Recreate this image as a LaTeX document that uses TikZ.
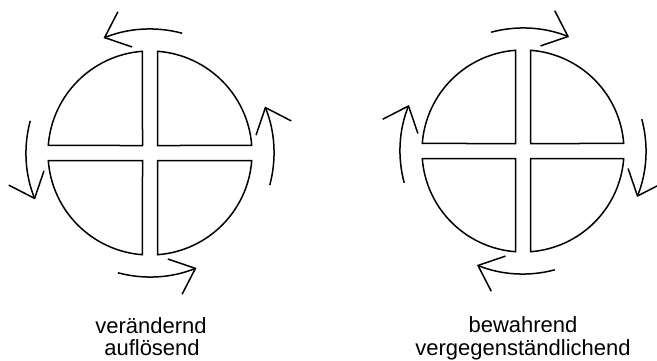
\documentclass[tikz,border=0pt]{standalone}
\usepackage{fontspec}
\setmainfont{Liberation Sans}
\usetikzlibrary{arrows.meta}
\begin{document}
\begin{tikzpicture}[x=1pt,y=1pt,
  quad/.style={draw=black, line width=1.5pt, line join=miter},
  rotarrow/.style={draw=black, line width=1.5pt, -{Straight Barb[length=22pt,width=38pt,line width=1.5pt]}},
  lbl/.style={font=\fontsize{22}{22}\selectfont, anchor=base, inner sep=0pt}]
\useasboundingbox (0,0) rectangle (657,360);
\fill[white] (0,0) rectangle (657,360);
% left disc: turning counterclockwise
\coordinate (c1) at (150,207);
\foreach \k in {0,90,180,270}{
  \begin{scope}[shift={(c1)}, rotate=\k]
    \draw[quad] (7.5,7.5) -- (4.22:102) arc[start angle=4.22, end angle=85.78, radius=102] -- cycle;
    \draw[rotarrow] (-15:124) arc[start angle=-15, end angle=22, radius=124];
  \end{scope}
}
% right disc: turning clockwise
\coordinate (c2) at (523,209);
\foreach \k in {0,90,180,270}{
  \begin{scope}[shift={(c2)}, rotate=\k]
    \draw[quad] (7.5,7.5) -- (4.26:101) arc[start angle=4.26, end angle=85.74, radius=101] -- cycle;
    \draw[rotarrow] (15:123) arc[start angle=15, end angle=-22, radius=123];
  \end{scope}
}
\node[lbl] (t1a) at (151,27) {verändernd};
\node[lbl] (t1b) at (152,5) {auflösend};
\node[lbl] (t2a) at (523,28) {bewahrend};
\node[lbl] (t2b) at (523,5) {vergegenständlichend};
\end{tikzpicture}
\end{document}
